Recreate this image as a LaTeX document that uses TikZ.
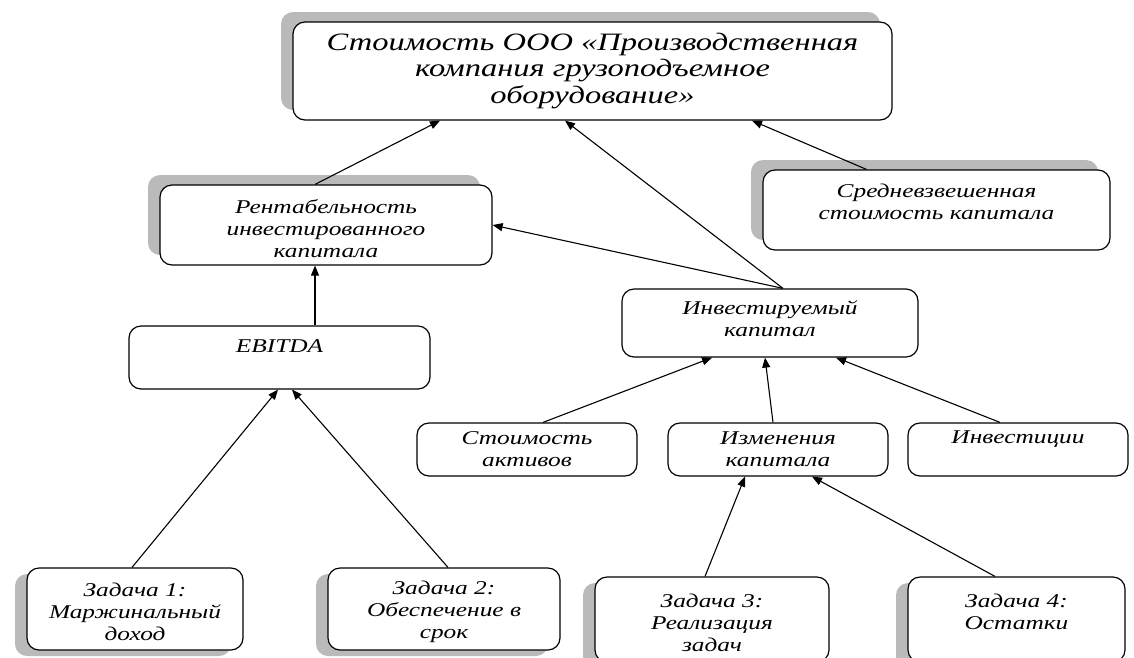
\documentclass[tikz,border=0pt]{standalone}
\usepackage{fontspec}
\setmainfont{Liberation Serif}
\newfontfamily\wideserif[FakeStretch=1.3]{Liberation Serif}
\usetikzlibrary{arrows.meta,shadows}
\tikzset{
  box/.style={draw=black, line width=1.2pt, rounded corners=12pt, fill=white, inner sep=0pt},
  shadowul/.style={drop shadow={shadow xshift=-12pt, shadow yshift=10pt, fill=black!27, opacity=1}},
  shadowdl/.style={drop shadow={shadow xshift=-12pt, shadow yshift=-6pt, fill=black!27, opacity=1}},
  lbl/.style={align=center, inner sep=0pt, font=\wideserif\itshape\fontsize{19.5}{22}\selectfont},
  bigl/.style={align=center, inner sep=0pt, font=\wideserif\itshape\fontsize{25}{26.5}\selectfont},
  arr/.style={line width=1.1pt, -{Triangle[length=10pt,width=8pt]}},
}
\begin{document}
\begin{tikzpicture}[x=1pt,y=-1pt]
\useasboundingbox (0,0) rectangle (1134,657);
% boxes
\node[box, shadowul, minimum width=599pt, minimum height=98pt] (top) at (592.5,71) {};
\node[box, shadowul, minimum width=332pt, minimum height=80pt] (rent) at (326,225) {};
\node[box, shadowul, minimum width=347pt, minimum height=80pt] (wacc) at (936.5,210) {};
\node[box, minimum width=301pt, minimum height=63pt] (ebitda) at (279.5,357.5) {};
\node[box, minimum width=296pt, minimum height=68pt] (ic) at (770,323) {};
\node[box, minimum width=220pt, minimum height=53pt] (assets) at (527,449.5) {};
\node[box, minimum width=220pt, minimum height=53pt] (chg) at (778,449.5) {};
\node[box, minimum width=220pt, minimum height=53pt] (inv) at (1018,449.5) {};
\node[box, shadowdl, minimum width=216pt, minimum height=82pt] (z1) at (135,609) {};
\node[box, shadowdl, minimum width=232pt, minimum height=82pt] (z2) at (444,609) {};
\node[box, shadowdl, minimum width=234pt, minimum height=85pt] (z3) at (712,619.5) {};
\node[box, shadowdl, minimum width=217pt, minimum height=85pt] (z4) at (1016.5,619.5) {};
% labels
\node[bigl] (ttop) at (top.center) {Стоимость ООО «Производственная\\компания грузоподъемное\\оборудование»};
\node[lbl] (trent) at ([yshift=-4pt]rent.center) {Рентабельность\\инвестированного\\капитала};
\node[lbl] (twacc) at ([yshift=8pt]wacc.center) {Средневзвешенная\\стоимость капитала};
\node[lbl] (tebitda) at ([yshift=11.5pt]ebitda.center) {EBITDA};
\node[lbl] (tic) at ([yshift=4pt]ic.center) {Инвестируемый\\капитал};
\node[lbl] (tassets) at (assets.center) {Стоимость\\активов};
\node[lbl] (tchg) at (chg.center) {Изменения\\капитала};
\node[lbl] (tinv) at ([yshift=10pt]inv.center) {Инвестиции};
\node[lbl] (tz1) at ([yshift=-3pt]z1.center) {Задача 1:\\Маржинальный\\доход};
\node[lbl] (tz2) at ([yshift=-3pt]z2.center) {Задача 2:\\Обеспечение в\\срок};
\node[lbl] (tz3) at ([yshift=-3pt]z3.center) {Задача 3:\\Реализация\\задач};
\node[lbl] (tz4) at ([yshift=8pt]z4.center) {Задача 4:\\Остатки};
% connectors
\draw[arr] ([xshift=-11pt]rent.north) -- ([xshift=-152.5pt]top.south);
\draw[arr] ([xshift=13pt]ic.north) -- ([xshift=-27.5pt]top.south);
\draw[arr] ([xshift=-70pt]wacc.north) -- ([xshift=159.5pt]top.south);
\draw[arr] ([xshift=13pt]ic.north) -- (rent.east);
\draw[arr] ([xshift=35.5pt]ebitda.north) -- ([xshift=-11pt]rent.south);
\draw[arr] ([xshift=-3pt]z1.north) -- ([xshift=-1.5pt]ebitda.south);
\draw[arr] ([xshift=4pt]z2.north) -- ([xshift=12.5pt]ebitda.south);
\draw[arr] ([xshift=16pt]assets.north) -- ([xshift=-58pt]ic.south);
\draw[arr] ([xshift=-5pt]chg.north) -- ([xshift=-5pt]ic.south);
\draw[arr] ([xshift=-18pt]inv.north) -- ([xshift=66pt]ic.south);
\draw[arr] ([xshift=-7pt]z3.north) -- ([xshift=-33pt]chg.south);
\draw[arr] ([xshift=-21.5pt]z4.north) -- ([xshift=34pt]chg.south);
\end{tikzpicture}
\end{document}
